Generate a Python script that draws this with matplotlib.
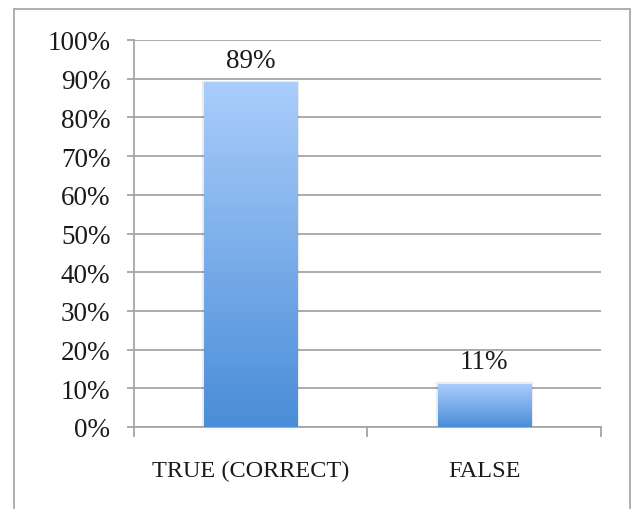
import matplotlib
matplotlib.use("Agg")
import matplotlib.pyplot as plt
import numpy as np
from matplotlib.colors import LinearSegmentedColormap
from matplotlib.patches import Rectangle

categories = ["TRUE (CORRECT)", "FALSE"]
values = [0.89, 0.11]
labels = ["89%", "11%"]
yticks = [0, 0.1, 0.2, 0.3, 0.4, 0.5, 0.6, 0.7, 0.8, 0.9, 1.0]
ytick_labels = ["0%", "10%", "20%", "30%", "40%", "50%", "60%", "70%", "80%", "90%", "100%"]

FONT = "Liberation Serif"
GRID = "#A5A5A5"
TXT = "#1a1a1a"

fig = plt.figure(figsize=(6.31, 5.10), dpi=100)
ax = fig.add_axes([134/631, (510-428)/510, (601-134)/631, (428-41)/510])

x = np.arange(len(categories))
bars = ax.bar(x, values, width=0.4, color="none", edgecolor="none", zorder=3)

cmap = LinearSegmentedColormap.from_list("g", ["#4A8DD8", "#AACDFB"])
grad = np.linspace(0, 1, 256).reshape(-1, 1)
for b in bars:
    x0, y0 = b.get_x(), b.get_y()
    w, h = b.get_width(), b.get_height()
    sh = Rectangle((x0, y0), w, h, facecolor="none", edgecolor="#000000", alpha=0.08,
                   lw=3, zorder=2.5)
    ax.add_patch(sh)
    ax.imshow(grad, cmap=cmap, origin="lower", aspect="auto",
              extent=[x0, x0 + w, y0, y0 + h], zorder=3)

for xi, v, lab in zip(x, values, labels):
    ax.annotate(lab, (xi, v), xytext=(0, 11.5), textcoords="offset points",
                ha="center", va="baseline", fontsize=19.5, family=FONT, color=TXT)

ax.set_xlim(-0.5, 1.5)
ax.set_ylim(0, 1.0)
ax.set_yticks(yticks)
ax.set_yticklabels(ytick_labels, family=FONT, fontsize=19.5, color=TXT)
ax.set_xticks(x)
ax.set_xticklabels(categories, family=FONT, fontsize=17.5, color=TXT)
ax.set_xticks([-0.5, 0.5, 1.5], minor=True)
ax.tick_params(axis="x", which="major", length=0, pad=24)
ax.tick_params(axis="x", which="minor", length=7, width=1.3, color=GRID, direction="out")
ax.tick_params(axis="y", length=5, width=1.3, color=GRID, pad=12)

ax.yaxis.grid(True, color=GRID, lw=1.3, zorder=1)
ax.set_axisbelow(True)
for s in ["top", "right"]:
    ax.spines[s].set_visible(False)
for s in ["left", "bottom"]:
    ax.spines[s].set_color(GRID)
    ax.spines[s].set_linewidth(1.3)

border = Rectangle((14/631, -0.05), (629.5-14)/631, (510-10)/510 + 0.05,
                   transform=fig.transFigure, facecolor="none", edgecolor="#A8A8A8",
                   lw=1.3, clip_on=False)
fig.patches.append(border)

fig.savefig("out.png", dpi=100)
